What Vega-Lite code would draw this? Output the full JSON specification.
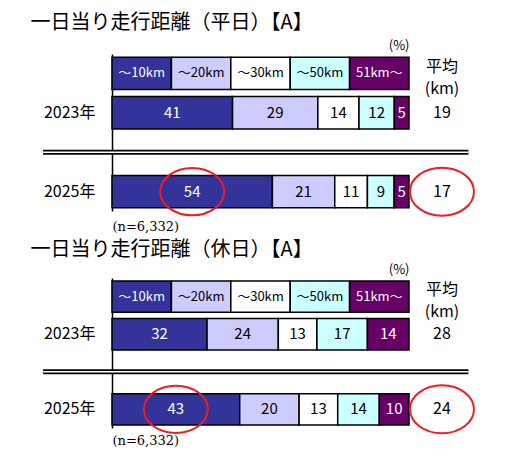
{
  "$schema": "https://vega.github.io/schema/vega-lite/v6.json",
  "background": "white",
  "padding": {"left": 30, "top": 13, "right": 5, "bottom": 5},
  "spacing": 7,
  "datasets": {
    "shares": [
      {"panel": "平日", "row": "凡例", "cat": "～10km", "pct": 20},
      {"panel": "平日", "row": "凡例", "cat": "～20km", "pct": 20},
      {"panel": "平日", "row": "凡例", "cat": "～30km", "pct": 20},
      {"panel": "平日", "row": "凡例", "cat": "～50km", "pct": 20},
      {"panel": "平日", "row": "凡例", "cat": "51km～", "pct": 20},
      {"panel": "平日", "row": "2023年", "cat": "～10km", "pct": 41},
      {"panel": "平日", "row": "2023年", "cat": "～20km", "pct": 29},
      {"panel": "平日", "row": "2023年", "cat": "～30km", "pct": 14},
      {"panel": "平日", "row": "2023年", "cat": "～50km", "pct": 12},
      {"panel": "平日", "row": "2023年", "cat": "51km～", "pct": 5},
      {"panel": "平日", "row": "2025年", "cat": "～10km", "pct": 54, "highlight": true},
      {"panel": "平日", "row": "2025年", "cat": "～20km", "pct": 21},
      {"panel": "平日", "row": "2025年", "cat": "～30km", "pct": 11},
      {"panel": "平日", "row": "2025年", "cat": "～50km", "pct": 9},
      {"panel": "平日", "row": "2025年", "cat": "51km～", "pct": 5},
      {"panel": "休日", "row": "凡例", "cat": "～10km", "pct": 20},
      {"panel": "休日", "row": "凡例", "cat": "～20km", "pct": 20},
      {"panel": "休日", "row": "凡例", "cat": "～30km", "pct": 20},
      {"panel": "休日", "row": "凡例", "cat": "～50km", "pct": 20},
      {"panel": "休日", "row": "凡例", "cat": "51km～", "pct": 20},
      {"panel": "休日", "row": "2023年", "cat": "～10km", "pct": 32},
      {"panel": "休日", "row": "2023年", "cat": "～20km", "pct": 24},
      {"panel": "休日", "row": "2023年", "cat": "～30km", "pct": 13},
      {"panel": "休日", "row": "2023年", "cat": "～50km", "pct": 17},
      {"panel": "休日", "row": "2023年", "cat": "51km～", "pct": 14},
      {"panel": "休日", "row": "2025年", "cat": "～10km", "pct": 43, "highlight": true},
      {"panel": "休日", "row": "2025年", "cat": "～20km", "pct": 20},
      {"panel": "休日", "row": "2025年", "cat": "～30km", "pct": 13},
      {"panel": "休日", "row": "2025年", "cat": "～50km", "pct": 14},
      {"panel": "休日", "row": "2025年", "cat": "51km～", "pct": 10}
    ],
    "avg": [
      {"panel": "平日", "row": "2023年", "avg": 19},
      {"panel": "平日", "row": "2025年", "avg": 17, "highlight": true},
      {"panel": "休日", "row": "2023年", "avg": 28},
      {"panel": "休日", "row": "2025年", "avg": 24, "highlight": true}
    ]
  },
  "vconcat": [
    {
      "title": {"text": "一日当り走行距離（平日）【A】", "anchor": "start", "fontSize": 20, "fontWeight": "normal", "color": "black", "offset": 6, "dx": -10},
      "width": 297,
      "height": 157,
      "data": {"name": "shares"},
      "transform": [
        {"filter": "datum.panel === '平日'"},
        {"calculate": "indexof(['～10km','～20km','～30km','～50km','51km～'], datum.cat)", "as": "k"},
        {"stack": "pct", "groupby": ["row"], "sort": [{"field": "k"}], "offset": "normalize", "as": ["x0", "x1"]},
        {"calculate": "(datum.x0 + datum.x1) / 2", "as": "mid"}
      ],
      "encoding": {
        "y": {"field": "row", "type": "nominal", "title": null,
          "scale": {"domain": ["凡例", "2023年", "区切り", "2025年"], "paddingInner": 0.177, "paddingOuter": 0.08},
          "axis": {"labelExpr": "datum.value === '凡例' || datum.value === '区切り' ? '' : datum.value", "ticks": false, "labelFontSize": 16, "labelPadding": 17, "labelColor": "black", "domainColor": "black", "domainWidth": 1.5}}
      },
      "layer": [
        {
          "mark": {"type": "bar", "stroke": "black", "strokeWidth": 1.5},
          "encoding": {
            "x": {"field": "x0", "type": "quantitative", "scale": {"domain": [0, 1], "nice": false},
              "axis": {"orient": "bottom", "title": "(n=6,332)", "titleAnchor": "start", "titleAlign": "left", "labels": false, "ticks": false, "domain": false, "grid": false, "titleFont": "DejaVu Serif", "titleFontSize": 13, "titleFontWeight": "normal", "titleColor": "black", "titlePadding": 9}},
            "x2": {"field": "x1"},
            "fill": {"field": "cat", "type": "nominal", "legend": null,
              "scale": {"domain": ["～10km", "～20km", "～30km", "～50km", "51km～"], "range": ["#333399", "#ccccff", "#ffffff", "#ccffff", "#660066"]}}
          }
        },
        {
          "transform": [{"filter": "datum.row === '凡例'"}],
          "mark": {"type": "text", "fontSize": 13},
          "encoding": {
            "x": {"field": "mid", "type": "quantitative", "scale": {"domain": [0, 1], "nice": false},
              "axis": {"orient": "top", "title": "(%)", "titleAnchor": "end", "labels": false, "ticks": false, "domain": false, "grid": false, "titleFontSize": 13, "titleFontWeight": "normal", "titleColor": "black", "titlePadding": 2}},
            "text": {"field": "cat"},
            "color": {"field": "cat", "type": "nominal", "legend": null,
              "scale": {"domain": ["～10km", "～20km", "～30km", "～50km", "51km～"], "range": ["white", "black", "black", "black", "white"]}}
          }
        },
        {
          "transform": [{"filter": "datum.row !== '凡例'"}],
          "mark": {"type": "text", "fontSize": 15},
          "encoding": {
            "x": {"field": "mid", "type": "quantitative", "scale": {"domain": [0, 1], "nice": false}, "axis": null},
            "text": {"field": "pct", "type": "quantitative"},
            "color": {"field": "cat", "type": "nominal", "legend": null,
              "scale": {"domain": ["～10km", "～20km", "～30km", "～50km", "51km～"], "range": ["white", "black", "black", "black", "white"]}}
          }
        },
        {
          "transform": [{"filter": "datum.highlight === true"}],
          "mark": {"type": "point", "shape": "M-1,0A1,0.74,0,1,1,1,0A1,0.74,0,1,1,-1,0Z", "size": 4096, "filled": false, "stroke": "#ee1c25", "strokeWidth": 2, "opacity": 1},
          "encoding": {
            "x": {"field": "mid", "type": "quantitative", "scale": {"domain": [0, 1], "nice": false}, "axis": null}
          }
        },
        {
          "data": {"name": "avg"},
          "transform": [{"filter": "datum.panel === '平日'"}],
          "layer": [
            {
              "mark": {"type": "text", "fontSize": 16},
              "encoding": {
                "x": {"datum": 1.111, "type": "quantitative", "scale": {"domain": [0, 1], "nice": false}, "axis": null},
                "text": {"field": "avg", "type": "quantitative"}
              }
            },
            {
              "transform": [{"filter": "datum.highlight === true"}],
              "mark": {"type": "point", "shape": "M-1,0A1,0.75,0,1,1,1,0A1,0.75,0,1,1,-1,0Z", "size": 4096, "filled": false, "stroke": "#ee1c25", "strokeWidth": 2, "opacity": 1},
              "encoding": {
                "x": {"datum": 1.111, "type": "quantitative", "scale": {"domain": [0, 1], "nice": false}, "axis": null}
              }
            }
          ]
        },
        {
          "data": {"values": [{"row": "凡例", "label": "平均|(km)"}]},
          "mark": {"type": "text", "lineBreak": "|", "lineHeight": 22, "fontSize": 16, "dy": -6},
          "encoding": {
            "x": {"datum": 1.111, "type": "quantitative", "scale": {"domain": [0, 1], "nice": false}, "axis": null},
            "text": {"field": "label"}
          }
        },
        {
          "data": {"values": [{"row": "区切り"}]},
          "layer": [
            {
              "mark": {"type": "rule", "color": "black", "strokeWidth": 5},
              "encoding": {
                "x": {"datum": -0.232, "type": "quantitative", "scale": {"domain": [0, 1], "nice": false}, "axis": null},
                "x2": {"datum": 1.2}
              }
            },
            {
              "mark": {"type": "rule", "color": "white", "strokeWidth": 1.6},
              "encoding": {
                "x": {"datum": -0.232, "type": "quantitative", "scale": {"domain": [0, 1], "nice": false}, "axis": null},
                "x2": {"datum": 1.2}
              }
            }
          ]
        }
      ],
      "resolve": {"axis": {"x": "independent"}}
    },
    {
      "title": {"text": "一日当り走行距離（休日）【A】", "anchor": "start", "fontSize": 20, "fontWeight": "normal", "color": "black", "offset": 3, "dx": -10},
      "width": 297,
      "height": 150,
      "data": {"name": "shares"},
      "transform": [
        {"filter": "datum.panel === '休日'"},
        {"calculate": "indexof(['～10km','～20km','～30km','～50km','51km～'], datum.cat)", "as": "k"},
        {"stack": "pct", "groupby": ["row"], "sort": [{"field": "k"}], "offset": "normalize", "as": ["x0", "x1"]},
        {"calculate": "(datum.x0 + datum.x1) / 2", "as": "mid"}
      ],
      "encoding": {
        "y": {"field": "row", "type": "nominal", "title": null,
          "scale": {"domain": ["凡例", "2023年", "区切り", "2025年"], "paddingInner": 0.165, "paddingOuter": 0.08},
          "axis": {"labelExpr": "datum.value === '凡例' || datum.value === '区切り' ? '' : datum.value", "ticks": false, "labelFontSize": 16, "labelPadding": 17, "labelColor": "black", "domainColor": "black", "domainWidth": 1.5}}
      },
      "layer": [
        {
          "mark": {"type": "bar", "stroke": "black", "strokeWidth": 1.5},
          "encoding": {
            "x": {"field": "x0", "type": "quantitative", "scale": {"domain": [0, 1], "nice": false},
              "axis": {"orient": "bottom", "title": "(n=6,332)", "titleAnchor": "start", "titleAlign": "left", "labels": false, "ticks": false, "domain": false, "grid": false, "titleFont": "DejaVu Serif", "titleFontSize": 13, "titleFontWeight": "normal", "titleColor": "black", "titlePadding": 6}},
            "x2": {"field": "x1"},
            "fill": {"field": "cat", "type": "nominal", "legend": null,
              "scale": {"domain": ["～10km", "～20km", "～30km", "～50km", "51km～"], "range": ["#333399", "#ccccff", "#ffffff", "#ccffff", "#660066"]}}
          }
        },
        {
          "transform": [{"filter": "datum.row === '凡例'"}],
          "mark": {"type": "text", "fontSize": 13},
          "encoding": {
            "x": {"field": "mid", "type": "quantitative", "scale": {"domain": [0, 1], "nice": false},
              "axis": {"orient": "top", "title": "(%)", "titleAnchor": "end", "labels": false, "ticks": false, "domain": false, "grid": false, "titleFontSize": 13, "titleFontWeight": "normal", "titleColor": "black", "titlePadding": 2}},
            "text": {"field": "cat"},
            "color": {"field": "cat", "type": "nominal", "legend": null,
              "scale": {"domain": ["～10km", "～20km", "～30km", "～50km", "51km～"], "range": ["white", "black", "black", "black", "white"]}}
          }
        },
        {
          "transform": [{"filter": "datum.row !== '凡例'"}],
          "mark": {"type": "text", "fontSize": 15},
          "encoding": {
            "x": {"field": "mid", "type": "quantitative", "scale": {"domain": [0, 1], "nice": false}, "axis": null},
            "text": {"field": "pct", "type": "quantitative"},
            "color": {"field": "cat", "type": "nominal", "legend": null,
              "scale": {"domain": ["～10km", "～20km", "～30km", "～50km", "51km～"], "range": ["white", "black", "black", "black", "white"]}}
          }
        },
        {
          "transform": [{"filter": "datum.highlight === true"}],
          "mark": {"type": "point", "shape": "M-1,0A1,0.74,0,1,1,1,0A1,0.74,0,1,1,-1,0Z", "size": 4096, "filled": false, "stroke": "#ee1c25", "strokeWidth": 2, "opacity": 1},
          "encoding": {
            "x": {"field": "mid", "type": "quantitative", "scale": {"domain": [0, 1], "nice": false}, "axis": null}
          }
        },
        {
          "data": {"name": "avg"},
          "transform": [{"filter": "datum.panel === '休日'"}],
          "layer": [
            {
              "mark": {"type": "text", "fontSize": 16},
              "encoding": {
                "x": {"datum": 1.111, "type": "quantitative", "scale": {"domain": [0, 1], "nice": false}, "axis": null},
                "text": {"field": "avg", "type": "quantitative"}
              }
            },
            {
              "transform": [{"filter": "datum.highlight === true"}],
              "mark": {"type": "point", "shape": "M-1,0A1,0.75,0,1,1,1,0A1,0.75,0,1,1,-1,0Z", "size": 4096, "filled": false, "stroke": "#ee1c25", "strokeWidth": 2, "opacity": 1},
              "encoding": {
                "x": {"datum": 1.111, "type": "quantitative", "scale": {"domain": [0, 1], "nice": false}, "axis": null}
              }
            }
          ]
        },
        {
          "data": {"values": [{"row": "凡例", "label": "平均|(km)"}]},
          "mark": {"type": "text", "lineBreak": "|", "lineHeight": 22, "fontSize": 16, "dy": -7},
          "encoding": {
            "x": {"datum": 1.111, "type": "quantitative", "scale": {"domain": [0, 1], "nice": false}, "axis": null},
            "text": {"field": "label"}
          }
        },
        {
          "data": {"values": [{"row": "区切り"}]},
          "layer": [
            {
              "mark": {"type": "rule", "color": "black", "strokeWidth": 5},
              "encoding": {
                "x": {"datum": -0.232, "type": "quantitative", "scale": {"domain": [0, 1], "nice": false}, "axis": null},
                "x2": {"datum": 1.2}
              }
            },
            {
              "mark": {"type": "rule", "color": "white", "strokeWidth": 1.6},
              "encoding": {
                "x": {"datum": -0.232, "type": "quantitative", "scale": {"domain": [0, 1], "nice": false}, "axis": null},
                "x2": {"datum": 1.2}
              }
            }
          ]
        }
      ],
      "resolve": {"axis": {"x": "independent"}}
    }
  ],
  "config": {
    "view": {"stroke": null},
    "font": "Noto Sans CJK JP"
  }
}
